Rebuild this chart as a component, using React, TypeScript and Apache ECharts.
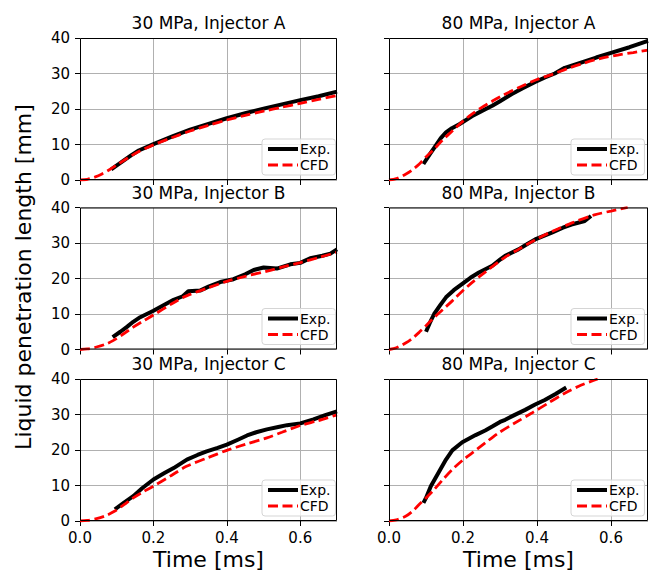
import React, { useEffect, useRef } from 'react';
import * as echarts from 'echarts';

// ---------- data ----------
const panelTitles = [
  '30 MPa, Injector A',
  '80 MPa, Injector A',
  '30 MPa, Injector B',
  '80 MPa, Injector B',
  '30 MPa, Injector C',
  '80 MPa, Injector C',
];
const seriesNames = ['Exp.', 'CFD'];
const xTicks = [0, 0.2, 0.4, 0.6];
const yTicks = [0, 10, 20, 30, 40];
const xLabel = 'Time [ms]';
const yLabel = 'Liquid penetration length [mm]';

const exp30A: [number, number][] = [
  [0.085, 3.0], [0.11, 4.8], [0.14, 7.0], [0.16, 8.3], [0.2, 10.1], [0.25, 12.2], [0.3, 14.2],
  [0.35, 15.8], [0.4, 17.4], [0.45, 18.8], [0.5, 20.1], [0.55, 21.3], [0.6, 22.5], [0.65, 23.6], [0.7, 24.9],
];
const cfd30A: [number, number][] = [
  [0, 0], [0.02, 0.2], [0.04, 0.8], [0.06, 1.7], [0.08, 2.9], [0.1, 4.2], [0.13, 6.2], [0.16, 8.0],
  [0.2, 9.9], [0.25, 11.9], [0.3, 13.8], [0.35, 15.4], [0.4, 16.9], [0.45, 18.2], [0.5, 19.4],
  [0.55, 20.5], [0.6, 21.6], [0.65, 22.7], [0.7, 23.8],
];
const exp80A: [number, number][] = [
  [0.093, 4.5], [0.11, 7.2], [0.123, 9.2], [0.14, 11.8], [0.154, 13.4], [0.17, 14.6], [0.19, 15.7],
  [0.225, 18.0], [0.25, 19.4], [0.279, 20.9], [0.3, 22.2], [0.332, 24.2], [0.36, 25.8], [0.395, 27.6],
  [0.42, 28.8], [0.448, 30.0], [0.475, 31.6], [0.5, 32.4], [0.529, 33.4], [0.56, 34.5], [0.6, 35.8],
  [0.65, 37.4], [0.7, 39.2],
];
const cfd80A: [number, number][] = [
  [0, 0], [0.02, 0.4], [0.046, 1.7], [0.065, 3.0], [0.082, 4.5], [0.1, 6.5], [0.122, 8.7], [0.145, 11.3],
  [0.171, 13.8], [0.2, 16.6], [0.225, 18.6], [0.25, 20.4], [0.279, 22.2], [0.31, 24.0], [0.35, 26.0],
  [0.4, 28.3], [0.44, 29.7], [0.48, 31.3], [0.529, 33.0], [0.57, 34.2], [0.618, 35.2], [0.66, 35.9], [0.7, 36.6],
];
const exp30B: [number, number][] = [
  [0.089, 3.5], [0.11, 5.0], [0.127, 6.3], [0.145, 7.8], [0.164, 9.1], [0.2, 10.9], [0.23, 12.6],
  [0.255, 14.0], [0.28, 15.0], [0.295, 16.4], [0.327, 16.6], [0.35, 17.7], [0.382, 19.0], [0.418, 19.8],
  [0.45, 21.2], [0.473, 22.4], [0.5, 23.1], [0.536, 22.8], [0.573, 24.0], [0.6, 24.4], [0.627, 25.7],
  [0.66, 26.4], [0.682, 27.0], [0.7, 28.2],
];
const cfd30B: [number, number][] = [
  [0, 0], [0.02, 0.15], [0.045, 0.7], [0.07, 1.5], [0.09, 2.5], [0.12, 4.5], [0.145, 6.3], [0.17, 7.9],
  [0.2, 9.7], [0.25, 12.9], [0.29, 15.1], [0.35, 17.4], [0.4, 19.2], [0.45, 20.6], [0.51, 22.1],
  [0.55, 23.2], [0.6, 24.5], [0.65, 25.9], [0.7, 27.4],
];
const exp80B: [number, number][] = [
  [0.1, 5.0], [0.11, 7.4], [0.122, 10.0], [0.138, 12.4], [0.154, 14.7], [0.175, 16.7], [0.198, 18.5],
  [0.22, 20.2], [0.243, 21.7], [0.279, 23.6], [0.3, 25.3], [0.314, 26.4], [0.35, 28.2], [0.375, 29.8],
  [0.395, 31.0], [0.44, 32.9], [0.47, 34.3], [0.493, 35.2], [0.529, 36.2], [0.546, 37.6],
];
const cfd80B: [number, number][] = [
  [0, 0], [0.02, 0.5], [0.046, 1.9], [0.065, 3.3], [0.082, 4.9], [0.1, 6.7], [0.118, 8.6], [0.145, 11.2],
  [0.171, 13.7], [0.2, 16.6], [0.225, 18.9], [0.26, 21.8], [0.314, 26.0], [0.35, 28.2], [0.395, 30.9],
  [0.44, 33.2], [0.493, 35.6], [0.555, 37.9], [0.6, 39.0], [0.645, 40.0],
];
const exp30C: [number, number][] = [
  [0.095, 3.3], [0.12, 5.2], [0.145, 7.0], [0.17, 9.3], [0.2, 11.7], [0.23, 13.5], [0.255, 14.9],
  [0.291, 17.3], [0.32, 18.6], [0.345, 19.6], [0.375, 20.6], [0.4, 21.5], [0.43, 22.9], [0.455, 24.1],
  [0.48, 25.0], [0.509, 25.8], [0.54, 26.5], [0.564, 27.0], [0.6, 27.5], [0.636, 28.6], [0.67, 29.9], [0.7, 30.9],
];
const cfd30C: [number, number][] = [
  [0, 0], [0.02, 0.15], [0.045, 0.65], [0.07, 1.5], [0.095, 2.8], [0.12, 4.6], [0.145, 6.5], [0.17, 8.1],
  [0.2, 9.8], [0.25, 12.9], [0.29, 15.4], [0.35, 17.9], [0.4, 19.9], [0.45, 21.6], [0.509, 23.4],
  [0.55, 25.0], [0.6, 26.9], [0.65, 28.3], [0.7, 29.9],
];
const exp80C: [number, number][] = [
  [0.093, 5.1], [0.1, 6.5], [0.113, 9.8], [0.131, 13.1], [0.154, 17.3], [0.171, 19.9], [0.198, 22.2],
  [0.234, 24.2], [0.26, 25.5], [0.279, 26.6], [0.3, 27.9], [0.314, 28.5], [0.34, 29.9], [0.368, 31.3],
  [0.395, 32.8], [0.421, 34.1], [0.45, 35.8], [0.479, 37.6],
];
const cfd80C: [number, number][] = [
  [0, 0], [0.02, 0.3], [0.046, 1.4], [0.065, 2.9], [0.082, 4.7], [0.1, 6.5], [0.118, 8.4], [0.145, 11.6],
  [0.171, 14.5], [0.2, 17.2], [0.225, 19.2], [0.26, 22.0], [0.296, 24.8], [0.34, 27.6], [0.386, 30.4],
  [0.43, 33.2], [0.475, 36.0], [0.52, 38.3], [0.564, 40.0],
];

const expData = [exp30A, exp80A, exp30B, exp80B, exp30C, exp80C];
const cfdData = [cfd30A, cfd80A, cfd30B, cfd80B, cfd30C, cfd80C];

// ---------- layout ----------
const FONT = '"DejaVu Sans", "Liberation Sans", sans-serif';
const COL_LEFT = [80, 389];
const COL_W = [257, 259];
const ROW_TOP = [38, 207.5, 379];
const ROW_H = 142;

function buildOption() {
  const grid: any[] = [];
  const xAxis: any[] = [];
  const yAxis: any[] = [];
  const series: any[] = [];
  const legend: any[] = [];
  const graphic: any[] = [];

  panelTitles.forEach((title, i) => {
    const row = Math.floor(i / 2);
    const col = i % 2;
    const left = COL_LEFT[col];
    const top = ROW_TOP[row];
    const w = COL_W[col];
    grid.push({ left, top, width: w, height: ROW_H, containLabel: false, outerBoundsMode: 'none' });

    xAxis.push({
      type: 'value',
      gridIndex: i,
      min: 0,
      max: 0.7,
      interval: 0.2,
      axisLine: { show: false },
      axisTick: { show: true, inside: false, length: 5, customValues: xTicks, lineStyle: { color: '#000', width: 1 } },
      axisLabel: {
        show: row === 2,
        customValues: xTicks,
        formatter: (v: number) => v.toFixed(1),
        fontSize: 15,
        fontFamily: FONT,
        color: '#000',
        margin: 9,
      },
      splitLine: { show: true, lineStyle: { color: '#b0b0b0', width: 1 } },
      name: row === 2 ? xLabel : '',
      nameLocation: 'middle',
      nameGap: 27,
      nameTextStyle: { fontSize: 22, fontFamily: FONT, color: '#000' },
    });
    yAxis.push({
      type: 'value',
      gridIndex: i,
      min: 0,
      max: 40,
      interval: 10,
      axisLine: { show: false },
      axisTick: { show: true, inside: false, length: 5, customValues: yTicks, lineStyle: { color: '#000', width: 1 } },
      axisLabel: {
        show: col === 0,
        customValues: yTicks,
        fontSize: 15,
        fontFamily: FONT,
        color: '#000',
        margin: 10,
      },
      splitLine: { show: true, lineStyle: { color: '#b0b0b0', width: 1 } },
    });

    series.push({
      type: 'line',
      name: seriesNames[0],
      xAxisIndex: i,
      yAxisIndex: i,
      data: expData[i],
      symbol: 'none',
      showSymbol: false,
      smooth: false,
      lineStyle: { color: '#000', width: 4, join: 'round', cap: 'butt' },
      itemStyle: { color: '#000' },
      z: 2,
    });
    series.push({
      type: 'line',
      name: seriesNames[1],
      xAxisIndex: i,
      yAxisIndex: i,
      data: cfdData[i],
      symbol: 'none',
      showSymbol: false,
      smooth: 0.3,
      lineStyle: { color: '#ff0000', width: 2.8, type: [10, 4.5] },
      itemStyle: { color: '#ff0000' },
      z: 3,
    });

    legend.push({
      data: seriesNames,
      orient: 'vertical',
      left: left + 182,
      top: top + 101,
      itemWidth: 30,
      itemHeight: 12,
      itemGap: 2,
      padding: [3, 5, 3, 4],
      backgroundColor: 'rgba(255,255,255,0.8)',
      borderColor: '#d5d5d5',
      borderWidth: 1,
      borderRadius: 3,
      selectedMode: false,
      itemStyle: { opacity: 0, borderWidth: 0 },
      lineStyle: { width: 'inherit', opacity: 1 },
      textStyle: { fontSize: 14, fontFamily: FONT, color: '#000', padding: [0, 0, 0, -3] },
      z: 10,
    });

    graphic.push({
      type: 'text',
      x: left + w / 2,
      y: top - 15,
      style: {
        text: title,
        font: `17px ${FONT}`,
        fill: '#000',
        textAlign: 'center',
        textVerticalAlign: 'middle',
      },
      z: 20,
    });
    graphic.push({
      type: 'rect',
      shape: { x: left + 0.5, y: top + 0.5, width: w - 1, height: ROW_H - 1 },
      style: { fill: 'none', stroke: '#000', lineWidth: 1 },
      z: 5,
      silent: true,
    });
  });

  graphic.push({
    type: 'text',
    x: 23,
    y: 277,
    rotation: Math.PI / 2,
    style: {
      text: yLabel,
      font: `22px ${FONT}`,
      fill: '#000',
      textAlign: 'center',
      textVerticalAlign: 'middle',
    },
    z: 20,
  });

  return {
    animation: false,
    backgroundColor: '#fff',
    grid,
    xAxis,
    yAxis,
    series,
    legend,
    graphic,
  };
}

export default function App() {
  const ref = useRef<HTMLDivElement>(null);
  useEffect(() => {
    if (!ref.current) return;
    const chart = echarts.init(ref.current, undefined, { renderer: 'svg' });
    chart.setOption(buildOption() as any);
    return () => chart.dispose();
  }, []);
  return (
    <div
      ref={ref}
      style={{ position: 'fixed', left: 0, top: 0, width: 653, height: 573, background: '#fff' }}
    />
  );
}
